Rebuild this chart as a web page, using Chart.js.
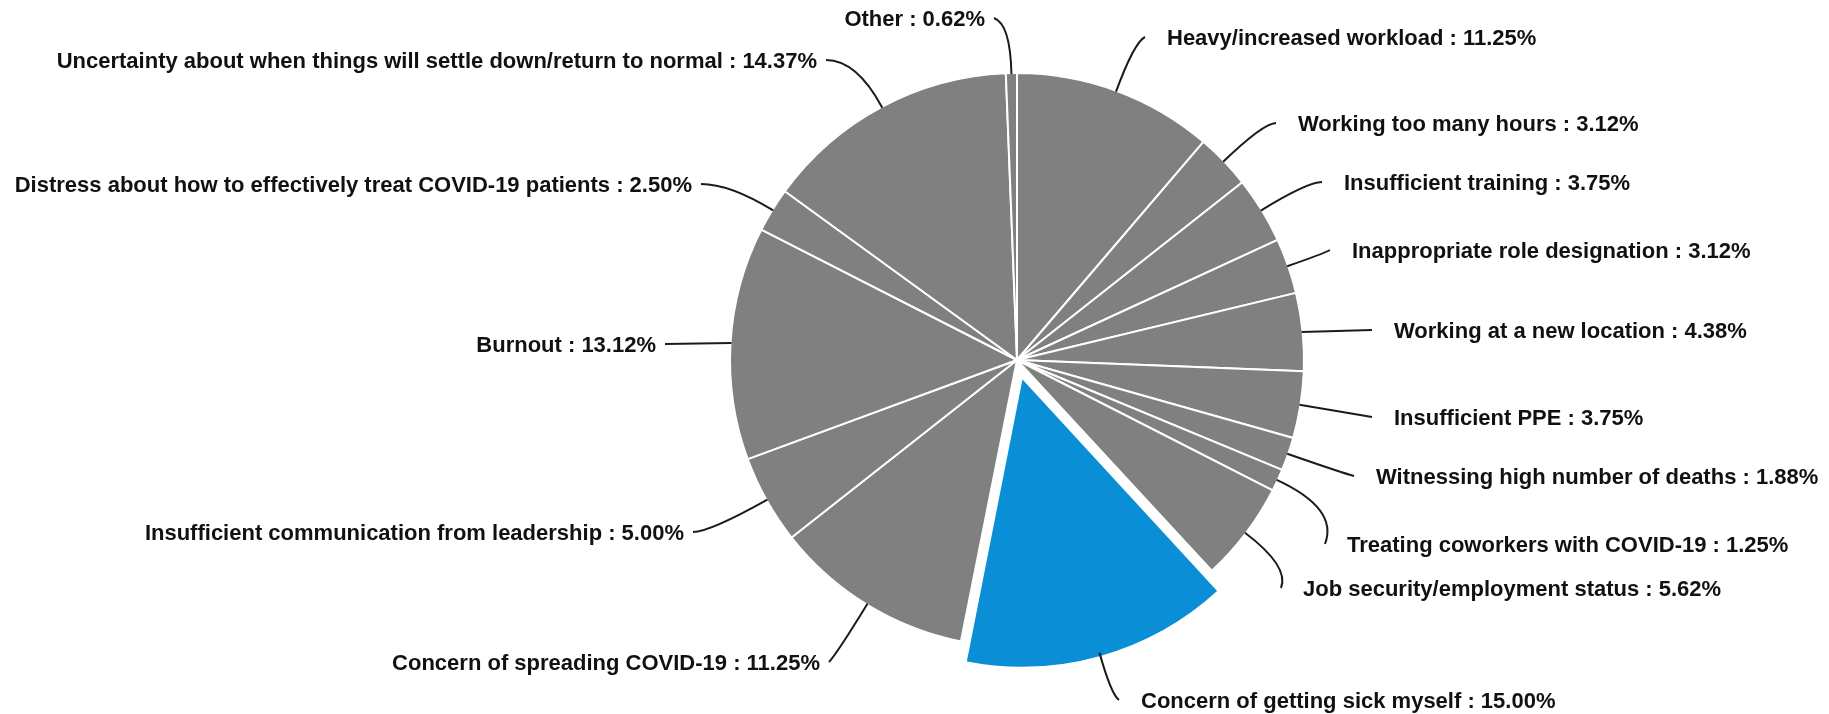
<!DOCTYPE html>
<html>
<head>
<meta charset="utf-8">
<script src="https://cdn.jsdelivr.net/npm/chart.js@4"></script>
<style>
  html, body { margin: 0; padding: 0; background: #fff; }
  #wrap { width: 1829px; height: 714px; position: relative; }
</style>
</head>
<body>
<div id="wrap"><canvas id="stressChart"></canvas></div>
<script>
// Sources of stress, clockwise from 12 o'clock
const categories = [
    'Heavy/increased workload',
    'Working too many hours',
    'Insufficient training',
    'Inappropriate role designation',
    'Working at a new location',
    'Insufficient PPE',
    'Witnessing high number of deaths',
    'Treating coworkers with COVID-19',
    'Job security/employment status',
    'Concern of getting sick myself',
    'Concern of spreading COVID-19',
    'Insufficient communication from leadership',
    'Burnout',
    'Distress about how to effectively treat COVID-19 patients',
    'Uncertainty about when things will settle down/return to normal',
    'Other'
];
const shares = [11.25, 3.12, 3.75, 3.12, 4.38, 3.75, 1.88, 1.25, 5.62, 15.00, 11.25, 5.00, 13.12, 2.50, 14.37, 0.62];
const highlighted = 'Concern of getting sick myself';

// label anchor relative to the pie centre: [dx, dy] in px
const labelSpots = [
    [150, -321], [281, -235], [327, -176], [335, -108], [377, -28],
    [377, 59], [359, 118], [330, 186], [286, 230], [124, 342],
    [-197, 304], [-333, 174], [-361, -14], [-325, -174], [-200, -298], [-32, -340]
];

const sliceGray = '#808080';
const sliceBlue = '#0a8fd6';

const leaderLabels = {
    id: 'leaderLabels',
    afterDatasetsDraw(chart) {
        const ctx = chart.ctx;
        const arcs = chart.getDatasetMeta(0).data;
        ctx.save();
        ctx.font = 'bold 22px "Liberation Sans", Arial, sans-serif';
        ctx.textBaseline = 'middle';
        ctx.strokeStyle = '#1b1b1b';
        ctx.lineWidth = 2;
        ctx.fillStyle = '#111';
        arcs.forEach((arc, i) => {
            const p = arc.getProps(['x', 'y', 'startAngle', 'endAngle', 'outerRadius'], true);
            const mid = (p.startAngle + p.endAngle) / 2;
            // ArcElement moves an exploded slice out by offset / 4
            const off = (arc.options.offset || 0) / 4;
            const dx = Math.cos(mid), dy = Math.sin(mid);
            const r = p.outerRadius + off - 1;
            const sx = p.x + dx * r, sy = p.y + dy * r;

            const spot = labelSpots[i];
            const onRight = spot[0] > 0;
            const ax = p.x + spot[0], ay = p.y + spot[1];
            const ex = onRight ? ax - 22 : ax + 9;
            const ey = ay - 2;

            // bend the leader only where it leaves the pie steeply
            let cx = (sx + ex) / 2, cy = (sy + ey) / 2;
            if (Math.abs(dy) > 0.3) {
                const dist = Math.hypot(ex - sx, ey - sy);
                let t = dist * 0.5;
                const tt = (ey - sy) / dy;
                if (tt > 0) t = Math.min(tt, dist * 0.85);
                cx = sx + dx * t;
                cy = sy + dy * t;
            }
            ctx.beginPath();
            ctx.moveTo(sx, sy);
            ctx.quadraticCurveTo(cx, cy, ex, ey);
            ctx.stroke();

            ctx.textAlign = onRight ? 'left' : 'right';
            ctx.fillText(`${categories[i]} : ${shares[i].toFixed(2)}%`, ax, ay);
        });
        ctx.restore();
    }
};

new Chart(document.getElementById('stressChart'), {
    type: 'pie',
    data: {
        labels: categories,
        datasets: [{
            data: shares,
            backgroundColor: categories.map(c => c === highlighted ? sliceBlue : sliceGray),
            borderColor: '#ffffff',
            borderWidth: 2,
            offset: categories.map(c => c === highlighted ? 72 : 0),
            radius: 287
        }]
    },
    options: {
        responsive: true,
        maintainAspectRatio: false,
        animation: false,
        layout: { padding: { left: 205, right: 0, top: 6, bottom: 0 } },
        plugins: {
            legend: { display: false },
            tooltip: { enabled: false }
        }
    },
    plugins: [leaderLabels]
});
</script>
</body>
</html>
